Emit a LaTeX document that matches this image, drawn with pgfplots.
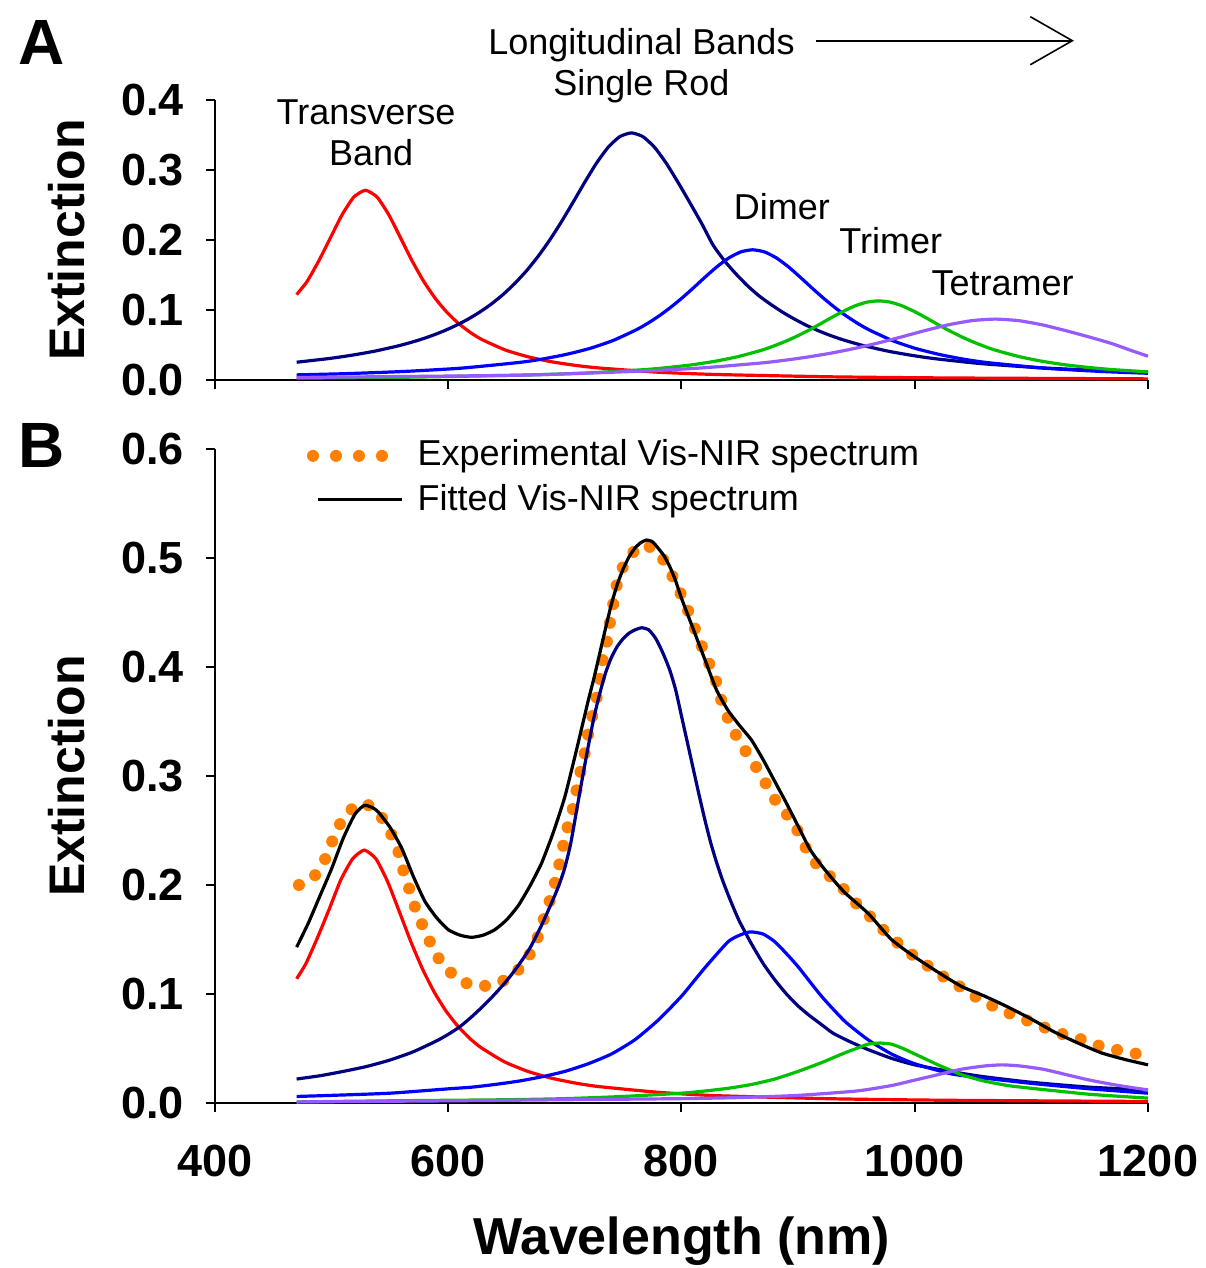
\documentclass[border=0pt]{standalone}
\usepackage{pgfplots}
\pgfplotsset{compat=1.18}
\usepackage{fontspec}
\setmainfont{Liberation Sans}
\usetikzlibrary{arrows.meta}
\definecolor{cRed}{RGB}{255,0,0}
\definecolor{cNavy}{RGB}{0,0,128}
\definecolor{cBlue}{RGB}{0,0,255}
\definecolor{cGreen}{RGB}{0,192,0}
\definecolor{cPurple}{RGB}{150,90,255}
\definecolor{cOrange}{RGB}{255,128,0}
\tikzset{annot/.style={font=\fontsize{18}{21.6}\selectfont, anchor=base, inner sep=0pt}}
\pgfplotsset{
  panel/.style={
    scale only axis, width=466.5pt,
    xmin=400, xmax=1200, ymin=0,
    axis lines=left, axis line style={-, line width=1pt, black},
    tick align=outside, major tick length=4.5pt,
    every tick/.style={black, line width=1pt},
    tick label style={font=\fontsize{22.5}{27}\selectfont\bfseries},
    yticklabel style={xshift=-7.5pt},
    xtick={400,600,800,1000,1200},
    clip=false,
    ylabel={Extinction},
    ylabel style={font=\fontsize{25}{30}\selectfont\bfseries, at={(axis description cs:-0.1586,0.5)}, anchor=center},
  },
  crv/.style={line width=1.6pt, smooth, tension=0.35, no markers},
  legexp/.style={legend image code/.code={\path[draw=none,fill=none] (0pt,0pt) rectangle (46pt,8pt); \draw[cOrange, line width=6pt, line cap=round, dash pattern=on 0pt off 11.5pt] (1.5pt,-1pt) -- (37pt,-1pt);}},
  legfit/.style={legend image code/.code={\path[draw=none,fill=none] (0pt,0pt) rectangle (46pt,8pt); \draw[black, line width=1.6pt, solid] (3.8pt,-0.5pt) -- (46pt,-0.5pt);}},
}
\begin{document}
\begin{tikzpicture}
\useasboundingbox (-107.5pt,-82.5pt) rectangle (495pt,551.5pt);
% ---------------- Panel A ----------------
\begin{axis}[panel, at={(0pt,361.5pt)}, anchor=south west, height=140pt,
  ymax=0.4, ytick={0,0.1,0.2,0.3,0.4}, yticklabels={0.0,0.1,0.2,0.3,0.4},
  xticklabels={}]
\addplot[crv, cRed] coordinates {(470,.122)(479,.1408)(489,.1702)(499,.2033)(509,.2361)(519,.2613)(529,.271)(539,.2613)(549,.2361)(559,.2033)(569,.1702)(579,.1408)(589,.1163)(599,.0964)(609,.0805)(619,.0678)(629,.0577)(649,.0428)(669,.0329)(689,.0259)(709,.0209)(729,.0172)(779,.0112)(829,.0079)(929,.0045)(1029,.0029)(1200,.0016)};
\addplot[crv, cNavy] coordinates {(470,.0254)(497,.0305)(517,.0353)(537,.0412)(557,.0487)(567,.0532)(577,.0582)(587,.064)(597,.0706)(607,.0782)(617,.0869)(627,.097)(637,.1086)(647,.1221)(657,.1378)(667,.1558)(677,.1765)(687,.1999)(697,.2259)(707,.2538)(717,.2824)(727,.3095)(737,.3322)(747,.3476)(757,.353)(767,.3476)(777,.3322)(787,.3095)(797,.2824)(807,.2538)(817,.2245)(827,.193)(837,.170)(847,.151)(857,.134)(867,.1195)(877,.1075)(887,.0965)(897,.0869)(907,.0782)(917,.0706)(927,.064)(937,.0582)(947,.0532)(957,.0487)(977,.0412)(997,.0353)(1017,.0305)(1057,.0234)(1107,.0175)(1157,.0136)(1200,.0111)};
\addplot[crv, cBlue] coordinates {(470,.0073)(511,.009)(561,.0121)(611,.0169)(661,.0251)(681,.03)(701,.0365)(721,.0449)(741,.0562)(761,.0715)(771,.0809)(781,.0918)(791,.1042)(801,.1179)(811,.1328)(821,.1481)(831,.1626)(841,.1748)(851,.1831)(861,.186)(871,.1831)(881,.1748)(891,.1626)(901,.1481)(911,.1328)(921,.1179)(931,.1042)(941,.0918)(951,.0809)(961,.0715)(981,.0562)(1001,.0449)(1021,.0365)(1041,.03)(1061,.0251)(1111,.0169)(1161,.0121)(1200,.0096)};
\addplot[crv, cGreen] coordinates {(470,.0027)(569,.0041)(669,.0072)(719,.01)(769,.0149)(789,.0179)(809,.0217)(829,.0268)(849,.0336)(869,.0427)(879,.0485)(889,.0551)(899,.0626)(909,.071)(919,.0801)(929,.0895)(939,.0984)(949,.106)(959,.1112)(969,.113)(979,.1112)(989,.106)(999,.0984)(1009,.0895)(1019,.0801)(1029,.071)(1039,.0626)(1049,.0551)(1059,.0485)(1069,.0427)(1089,.0336)(1109,.0268)(1129,.0217)(1149,.0179)(1169,.0149)(1200,.0116)};
\addplot[crv, cPurple] coordinates {(470,.0036)(569,.0051)(669,.0071)(769,.0129)(819,.0174)(869,.0244)(889,.0283)(909,.033)(929,.0386)(949,.0453)(969,.053)(989,.0617)(1009,.0707)(1029,.0789)(1049,.0848)(1069,.087)(1089,.0848)(1109,.0789)(1129,.0707)(1149,.0617)(1169,.052)(1185,.0425)(1200,.034)};
\node[annot] at (axis cs:529.5,0.3643) {Transverse};
\node[annot] at (axis cs:533.8,0.306) {Band};
\node[annot] at (axis cs:765.7,0.4643) {Longitudinal Bands};
\node[annot] at (axis cs:765.7,0.4071) {Single Rod};
\node[annot] at (axis cs:886,0.2286) {Dimer};
\node[annot] at (axis cs:979.4,0.181) {Trimer};
\node[annot] at (axis cs:1075.4,0.1214) {Tetramer};
\draw[line width=0.8pt, -{Straight Barb[length=21pt,width=24pt,line width=0.8pt]}] (axis cs:915.3,0.4847) -- (axis cs:1136.5,0.4847);
\end{axis}
% ---------------- Panel B ----------------
\begin{axis}[panel, at={(0pt,0pt)}, anchor=south west, height=327pt,
  ymax=0.6, ytick={0,0.1,0.2,0.3,0.4,0.5,0.6}, yticklabels={0.0,0.1,0.2,0.3,0.4,0.5,0.6},
  xticklabels={400,600,800,1000,1200},
  xticklabel style={yshift=-13pt},
  xlabel={Wavelength (nm)},
  xlabel style={font=\fontsize{26}{31}\selectfont\bfseries, at={(axis description cs:0.5,-0.2324)}, anchor=base},
  legend style={at={(axis description cs:0.0986,1.017)}, anchor=north west, draw=none, fill=none,
    inner sep=0pt, outer sep=0pt, row sep=7.1pt, column sep=7pt, font=\fontsize{18}{21.6}\selectfont,
    nodes={inner sep=0pt, outer sep=0pt}},
  legend cell align=left]
\addplot[cOrange, line width=6pt, line cap=round, dash pattern=on 0pt off 9.5pt, smooth, tension=0.4, no markers, legexp]
 coordinates {(472,.2)(485,.208)(495,.225)(502,.244)(511,.263)(525,.275)(538,.269)(548,.253)(556,.235)(561,.215)(567,.195)(573,.175)(581,.156)(589,.137)(600,.122)(611,.112)(626,.107)(643,.11)(656,.118)(667,.131)(676,.15)(682,.169)(688,.189)(693,.208)(697,.228)(701,.248)(706,.266)(710,.287)(714,.307)(718,.326)(721,.345)(726,.365)(729,.383)(732,.404)(736,.423)(739,.443)(742,.461)(746,.482)(754,.5)(767,.512)(780,.505)(790,.488)(799,.468)(807,.448)(814,.428)(821,.41)(829,.389)(834,.37)(841,.35)(849,.333)(859,.316)(869,.3)(877,.283)(887,.269)(896,.257)(904,.24)(911,.225)(924,.211)(936,.2)(947,.186)(959,.174)(970,.162)(981,.151)(994,.139)(1006,.13)(1020,.119)(1034,.11)(1047,.101)(1061,.092)(1076,.085)(1090,.078)(1104,.073)(1120,.065)(1136,.061)(1151,.055)(1166,.05)(1183,.047)(1199,.0425)};
\addlegendentry{Experimental Vis-NIR spectrum}
\addplot[crv, cRed, forget plot] coordinates {(470,.114)(478,.128)(488,.152)(498,.178)(508,.205)(518,.224)(528,.232)(538,.224)(548,.2031)(558,.1757)(568,.1478)(578,.1228)(588,.1017)(598,.0845)(608,.0708)(618,.0597)(628,.0509)(648,.0379)(668,.0291)(688,.0229)(708,.0185)(728,.0152)(778,.01)(828,.0068)(928,.0039)(1028,.0025)(1200,.0014)};
\addplot[crv, cNavy, forget plot] coordinates {(470,.022)(490,.025)(510,.029)(530,.0335)(550,.0394)(570,.047)(590,.057)(600,.063)(610,.070)(620,.079)(630,.089)(640,.1)(650,.112)(660,.126)(670,.142)(680,.163)(690,.187)(695,.200)(700,.216)(705,.238)(710,.268)(715,.298)(720,.327)(725,.354)(730,.376)(735,.395)(740,.409)(745,.419)(750,.426)(755,.431)(760,.434)(766,.436)(772,.434)(778,.426)(784,.413)(790,.397)(795,.379)(800,.355)(805,.331)(810,.307)(815,.283)(820,.26)(825,.239)(830,.221)(835,.205)(840,.191)(845,.178)(850,.166)(860,.146)(870,.128)(880,.113)(890,.1)(900,.089)(910,.08)(920,.072)(930,.064)(945,.056)(960,.049)(980,.041)(1000,.035)(1030,.029)(1060,.024)(1100,.019)(1150,.0145)(1200,.012)};
\addplot[crv, cBlue, forget plot] coordinates {(470,.006)(500,.007)(550,.009)(600,.013)(620,.0145)(640,.017)(660,.02)(680,.024)(700,.029)(720,.036)(740,.045)(760,.058)(780,.076)(800,.098)(820,.124)(840,.148)(850,.154)(859,.157)(870,.155)(880,.148)(890,.137)(900,.125)(920,.098)(940,.075)(960,.058)(980,.045)(1000,.036)(1030,.027)(1050,.024)(1100,.018)(1150,.013)(1200,.009)};
\addplot[crv, cGreen, forget plot] coordinates {(470,.001)(550,.002)(600,.0025)(650,.003)(700,.004)(750,.006)(800,.009)(820,.011)(840,.0135)(860,.017)(880,.022)(900,.029)(920,.037)(940,.046)(950,.05)(960,.054)(970,.055)(980,.054)(990,.05)(1000,.045)(1020,.035)(1040,.026)(1060,.02)(1080,.016)(1100,.0135)(1150,.008)(1200,.0045)};
\addplot[crv, cPurple, forget plot] coordinates {(470,.001)(600,.002)(700,.003)(800,.004)(850,.005)(900,.007)(950,.011)(980,.016)(1000,.021)(1020,.026)(1040,.031)(1060,.034)(1075,.035)(1090,.034)(1110,.031)(1130,.026)(1150,.021)(1175,.016)(1200,.012)};
\addplot[crv, black, legfit]
 coordinates {(470,.143)(480,.165)(490,.19)(500,.215)(510,.243)(520,.265)(528,.273)(535,.271)(540,.267)(550,.253)(560,.234)(570,.208)(580,.185)(590,.17)(600,.159)(610,.154)(620,.152)(630,.154)(640,.159)(650,.168)(660,.181)(670,.199)(680,.22)(690,.248)(700,.281)(710,.324)(720,.369)(725,.39)(730,.413)(735,.436)(740,.458)(745,.476)(750,.49)(755,.501)(760,.509)(765,.514)(770,.5165)(775,.515)(780,.509)(785,.502)(790,.492)(795,.479)(800,.463)(810,.435)(820,.407)(830,.379)(840,.36)(850,.346)(860,.333)(870,.315)(880,.295)(890,.275)(900,.254)(910,.233)(920,.218)(930,.205)(940,.193)(960,.174)(980,.15)(1000,.134)(1020,.12)(1040,.107)(1060,.098)(1080,.088)(1100,.077)(1120,.065)(1140,.055)(1160,.046)(1180,.04)(1200,.035)};
\addlegendentry{Fitted Vis-NIR spectrum}
\end{axis}
\node[anchor=base west, inner sep=0pt, font=\fontsize{32}{38}\selectfont\bfseries] at (-98.5pt,519pt) {A};
\node[anchor=base west, inner sep=0pt, font=\fontsize{32}{38}\selectfont\bfseries] at (-98.5pt,317.5pt) {B};
\end{tikzpicture}
\end{document}
